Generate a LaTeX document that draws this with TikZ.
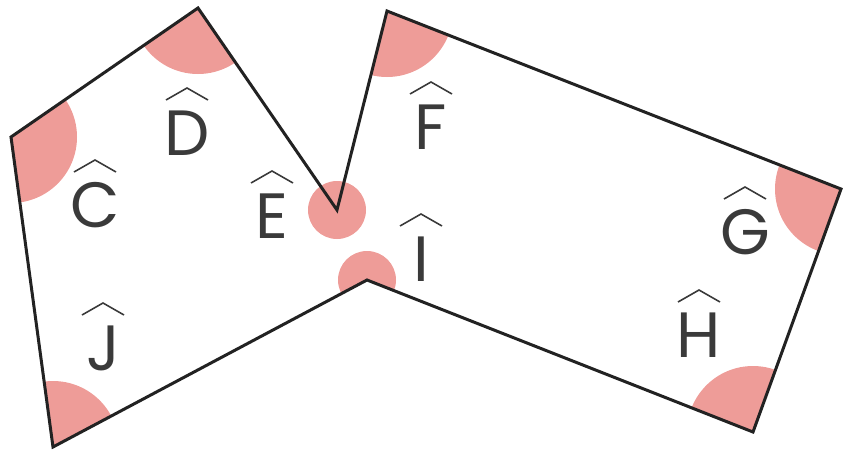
\documentclass[tikz,border=0pt]{standalone}
\usepackage{fontspec}
\setmainfont{Poppins}
\usetikzlibrary{calc}
\definecolor{pinkfill}{HTML}{EE9C98}
\definecolor{inkline}{HTML}{222222}
\definecolor{inktext}{HTML}{3A3A3A}
\tikzset{
  edge/.style={draw=inkline, line width=3pt, line join=miter},
  lbl/.style={inner sep=0pt, text=inktext, font=\fontsize{64}{64}\selectfont, anchor=base},
  hatline/.style={draw=inktext, line width=1.6pt},
  sector/.style={fill=pinkfill}
}
\newcommand\anglabel[3]{%
  \node[lbl] (#1) at (#2) {#3};
  \draw[hatline] ($(#1.base)+(-21,-55)$) -- ($(#1.base)+(0,-67)$) -- ($(#1.base)+(21,-55)$);
}
\begin{document}
\begin{tikzpicture}[x=1pt,y=-1pt]
\useasboundingbox (0,0) rectangle (843,455);
\coordinate (vJ) at (53,447);
\coordinate (vC) at (11,137);
\coordinate (vD) at (198,8);
\coordinate (vE) at (337,210);
\coordinate (vF) at (387,11);
\coordinate (vG) at (841,189);
\coordinate (vH) at (753,432);
\coordinate (vI) at (367,280);
\begin{scope}
  \clip (vJ) -- (vC) -- (vD) -- (vE) -- (vF) -- (vG) -- (vH) -- (vI) -- cycle;
  \foreach \v in {vC,vD,vF,vG,vH,vJ} { \fill[sector] (\v) circle[radius=66]; }
  \fill[sector] (vI) circle[radius=29];
\end{scope}
\fill[sector] (vE) circle[radius=29];
\draw[edge] (vJ) -- (vC) -- (vD) -- (vE) -- (vF) -- (vG) -- (vH) -- (vI) -- cycle;
\anglabel{D}{187,155}{D}
\anglabel{C}{95,227}{C}
\anglabel{E}{272,238}{E}
\anglabel{J}{103,370}{J}
\anglabel{F}{431,149}{F}
\anglabel{I}{421,281}{I}
\anglabel{G}{745,254}{G}
\anglabel{H}{699,357}{H}
\end{tikzpicture}
\end{document}
